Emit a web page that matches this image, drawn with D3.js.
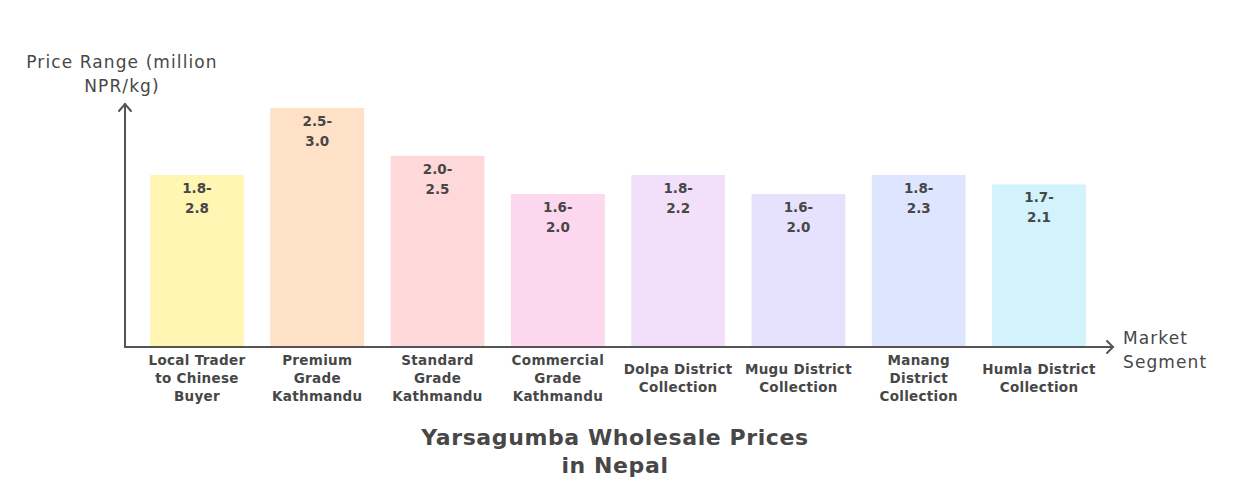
<!DOCTYPE html>
<html><head><meta charset="utf-8">
<script src="https://cdn.jsdelivr.net/npm/d3@7"></script>
<style>body{margin:0;background:#fff}svg{display:block}</style>
</head><body>
<svg id="chart" width="1233" height="485"></svg>
<script>
const categories = ["Local Trader to Chinese Buyer","Premium Grade Kathmandu","Standard Grade Kathmandu","Commercial Grade Kathmandu","Dolpa District Collection","Mugu District Collection","Manang District Collection","Humla District Collection"];
const tickLabels = [["Local Trader","to Chinese","Buyer"],["Premium","Grade","Kathmandu"],["Standard","Grade","Kathmandu"],["Commercial","Grade","Kathmandu"],["Dolpa District","Collection"],["Mugu District","Collection"],["Manang","District","Collection"],["Humla District","Collection"]];
const lowValues = [1.8,2.5,2.0,1.6,1.8,1.6,1.8,1.7];
const highValues = [2.8,3.0,2.5,2.0,2.2,2.0,2.3,2.1];
const colors = ["#fff6b4","#ffe1c8","#ffd9d9","#fdd7ee","#f2e0fb","#e6e2fd","#dde6fe","#d2f2fc"];

const svg = d3.select("#chart");
const font = "'DejaVu Sans', sans-serif";
const ink = "#474747";
const x0 = 125, y0 = 347;
const x = d3.scaleBand().domain(categories).range([126, 1110]).paddingInner(0.22).paddingOuter(0.2);
const y = d3.scaleLinear().domain([0, 2.5]).range([y0, 108]);

const data = categories.map((c,i)=>({c, lo: lowValues[i], hi: highValues[i], col: colors[i], lines: tickLabels[i]}));

svg.selectAll("rect.bar").data(data).join("rect").attr("class","bar")
  .attr("x", d=>x(d.c)).attr("width", x.bandwidth())
  .attr("y", d=>y(d.lo)).attr("height", d=>y(0)-y(d.lo))
  .attr("fill", d=>d.col);

// value labels
const vl = svg.selectAll("text.val").data(data).join("text").attr("class","val")
  .attr("text-anchor","middle").attr("font-family",font).attr("font-weight","bold")
  .attr("font-size",13.5).attr("fill",ink);
vl.append("tspan").attr("x", d=>x(d.c)+x.bandwidth()/2).attr("y", d=>y(d.lo)+18).text(d=>d.lo.toFixed(1)+"-");
vl.append("tspan").attr("x", d=>x(d.c)+x.bandwidth()/2).attr("y", d=>y(d.lo)+38).text(d=>d.hi.toFixed(1));

// axes
const ax = svg.append("g").attr("stroke","#555").attr("stroke-width",2).attr("fill","none").attr("stroke-linecap","round");
ax.append("path").attr("d",`M${x0},${y0}V104`);
ax.append("path").attr("d",`M${x0-6},111L${x0},104L${x0+6},111`);
ax.append("path").attr("d",`M${x0},${y0}H1113`);
ax.append("path").attr("d",`M1107,341L1113,${y0}L1107,353`);

// tick labels
const tl = svg.selectAll("text.tick").data(data).join("text").attr("class","tick")
  .attr("text-anchor","middle").attr("font-family",font).attr("font-weight","bold")
  .attr("font-size",13.5).attr("letter-spacing",0.3).attr("fill",ink);
tl.each(function(d){
  const n = d.lines.length;
  const cx = x(d.c)+x.bandwidth()/2;
  const start = 383 - (n-1)*9;
  d3.select(this).selectAll("tspan").data(d.lines).join("tspan")
    .attr("x",cx).attr("y",(l,j)=>start+j*18).text(l=>l);
});

// axis titles
const yt = svg.append("text").attr("text-anchor","middle").attr("font-family",font).attr("font-size",17).attr("letter-spacing",1.1).attr("fill",ink);
yt.append("tspan").attr("x",122).attr("y",68).text("Price Range (million");
yt.append("tspan").attr("x",122).attr("y",92).text("NPR/kg)");
const xt = svg.append("text").attr("text-anchor","start").attr("font-family",font).attr("font-size",17).attr("letter-spacing",1.1).attr("fill",ink);
xt.append("tspan").attr("x",1123).attr("y",344).text("Market");
xt.append("tspan").attr("x",1123).attr("y",368).text("Segment");

// title
const tt = svg.append("text").attr("text-anchor","middle").attr("font-family",font).attr("font-weight","bold").attr("font-size",22).attr("letter-spacing",0.6).attr("fill",ink);
tt.append("tspan").attr("x",615).attr("y",445).text("Yarsagumba Wholesale Prices");
tt.append("tspan").attr("x",615).attr("y",473).text("in Nepal");
</script>
</body></html>
